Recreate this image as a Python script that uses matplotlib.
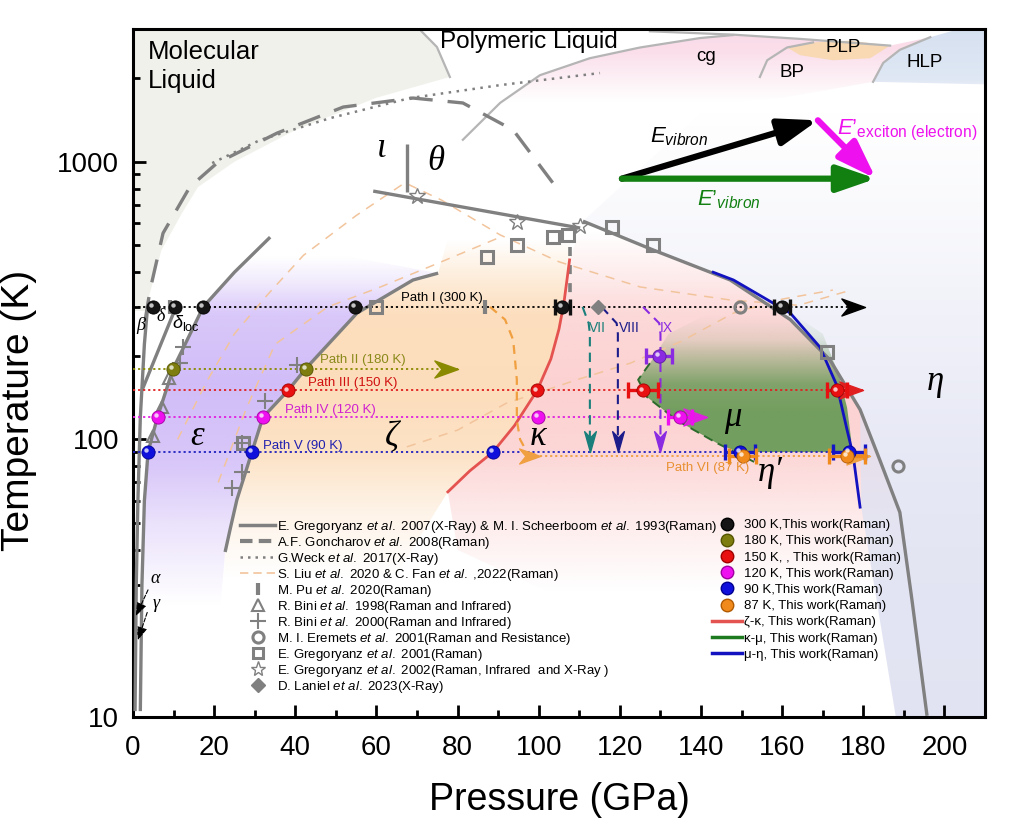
import numpy as np
import matplotlib
matplotlib.use("Agg")
import matplotlib.pyplot as plt
from matplotlib.lines import Line2D
from matplotlib.patches import Polygon
from matplotlib.path import Path
from matplotlib.transforms import offset_copy

plt.rcParams["font.family"] = ["Liberation Sans", "DejaVu Sans"]
plt.rcParams["mathtext.fontset"] = "custom"
plt.rcParams["mathtext.rm"] = "Liberation Sans"
plt.rcParams["mathtext.it"] = "Liberation Sans:italic"
plt.rcParams["mathtext.bf"] = "Liberation Sans:bold"

# ---------------- phase boundaries (P in GPa, T in K) ----------------
beta_P = [0.5, 0.8, 1.2, 1.8, 2.8, 3.5]
beta_T = [10.5, 30, 60, 120, 220, 290]
eps_P = [1.8, 2.2, 2.8, 3.7, 6.0, 9.9, 12.5, 17.3, 25, 33.8]
eps_T = [10.5, 30, 60, 90, 120, 180, 215, 300, 400, 535]
delta_P = [2.2, 10.8]
delta_T = [150, 305]
epszeta_P = [22.7, 23.9, 25.6, 29.3, 32.0, 38.2, 42.6, 55.2, 69.0, 75.2]
epszeta_T = [39.3, 47.2, 60.6, 90, 120, 150, 180, 285, 375, 397]
theta_P = [59.2, 110.2]
theta_T = [784, 577]
eta_P = [110.9, 128.2, 147.2, 162, 171.8, 179.2, 184.1, 189, 192, 195.7]
eta_T = [611, 481, 375, 270, 193, 128, 84, 54.6, 26.3, 10.1]
iota_P = [67.5, 67.5]
iota_T = [1155, 780]
gonch_P = [3.0, 4.2, 7.4, 14.0, 20.7, 35.5, 51.8, 69.0, 81.3, 93.7, 103.5]
gonch_T = [269, 345, 553, 811, 989, 1268, 1574, 1696, 1628, 1301, 838]
weck_P = [19.5, 31.3, 48.6, 68.3, 90.5, 115.1]
weck_T = [989, 1197, 1436, 1696, 1888, 2087]
liu1_P = [11, 18, 25, 33, 42, 55, 67, 76, 90.5, 105, 125, 147, 164, 177]
liu1_T = [100, 160, 240, 330, 460, 640, 840, 728, 545, 436, 354, 318, 304, 345]
liu2_P = [67.5, 80, 92, 110, 122.5, 135, 148, 160, 172.5]
liu2_T = [94, 108, 135, 165, 188, 225, 285, 320, 345]
liu3_P = [21, 28, 35, 48, 61, 75, 90.5]
liu3_T = [70, 130, 220, 300, 354, 430, 535]
pu_line_P = [107.7, 107.7]
pu_line_T = [493, 300]

# this work boundaries
zk_P = [77.6, 83, 88.7, 94, 99.6, 103, 105, 106.2, 107, 107.6]
zk_T = [64.7, 77, 90, 112, 150, 195, 250, 310, 380, 443]
km_P = [127.4, 124.5, 126.7, 134.1, 143.9, 154.5]
km_T = [188, 164, 142, 117, 97, 81]
me_P = [143, 148, 162, 169.3, 173.5, 176, 177.5, 179.2]
me_T = [400, 375, 285, 215, 156, 108, 87.5, 57]

# liquid / high-T boundaries (top of the plot)
mol_arc_P = [70.7, 74.9, 78.1]
mol_arc_T = [2990, 2590, 2020]
poly_P = [81.3, 90.5, 100.3, 112.6, 125, 139.8, 147.9]
poly_T = [1200, 1630, 2050, 2360, 2580, 2790, 2860]
top_P = [127.4, 147.9, 164.4, 186.6]
top_T = [2950, 2870, 2770, 2620]
bp_P = [154.5, 156.3, 161.2, 167.6]
bp_T = [2020, 2320, 2580, 2690]
hlp_P = [182.4, 184.9, 189, 196.5, 203]
hlp_T = [1940, 2270, 2530, 2810, 2990]

# ---------------- literature points ----------------
pu_P, pu_T = [9.1, 86.8], [300, 300]
tri_P, tri_T = [5.0, 7.1, 8.9], [103, 131, 166]
plus_P = [11.6, 12.3, 24.4, 26.9, 26.9, 32.5, 40.4]
plus_T = [188, 215, 67, 76, 97, 137, 185]
circ_P, circ_T = [149.6, 188.6], [300, 80]
sq_P = [27.1, 60.0, 87.3, 94.6, 103.5, 107.2, 118.0, 128.2, 171.0]
sq_T = [97, 300, 453, 503, 536, 545, 580, 502, 206]
star_P, star_T = [70.0, 94.6, 110.2], [752, 606, 587]
dia_P, dia_T = [114.6], [300]

# ---------------- this work: paths and points ----------------
path_T = [300, 180, 150, 120, 90, 87]
path_end = [180.5, 80, 179.8, 141.5, 181, 181.7]
path_start = [0, 0, 0, 0, 0, 100.3]
path_names = ["Path I (300 K)", "Path II (180 K)", "Path III (150 K)",
              "Path IV (120 K)", "Path V (90 K)", "Path VI (87 K)"]
path_arrow = [True, True, True, True, False, True]

s300_P = [4.9, 10.4, 17.3, 54.7, 105.8, 160.0]
s180_P = [9.9, 42.6]
s150_P = [38.2, 99.6, 125.7, 173.5]
s120_P = [6.2, 32.0, 99.8, 134.8]
s90_P = [3.7, 29.3, 88.7, 149.6, 176.5]
s87_P = [150.3, 176.0]
s200_P = [129.7]

err300_P, err300_x = [105.8, 160.0], [1.8, 2.0]
err150_P, err150_x = [125.7, 173.5], [3.8, 2.5]
err120_P, err120_x = [134.8], [2.9]
err90_P, err90_x = [149.6, 176.5], [3.8, 4.0]
err87_P, err87_x = [150.3, 176.0], [3.3, 4.5]
err200_P, err200_x = [129.7], [3.2]

# Path VI curve coming down from Path I
pvi_P = [88.0, 91.7, 93.7, 94.6, 94.6, 95.4, 97.1, 100.3]
pvi_T = [300, 270, 228, 164, 117, 100, 90, 87]

# vertical paths VII, VIII, IX
vert_names = ["VII", "VIII", "IX"]
vert_top_P = [110.8, 115.5, 125.7]
vert_P = [112.6, 119.5, 130.0]
vert_bot_T = 90

# vector diagram
vec_origin = (120.5, 869)
vec_black_tip = (168.8, 1410)
vec_green_tip = (183.1, 869)

grey = "#808080"
pale = "#f2c49c"

fig = plt.figure(figsize=(10.1, 8.27), dpi=100)
ax = fig.add_axes([0.1317, 0.133, 0.8436, 0.8316])
ax.set_yscale("log")
ax.set_xlim(0, 210)
ax.set_ylim(10, 3000)
ax.set_autoscale_on(False)

LOGLO, LOGHI = 1.0, np.log10(3000)


def shade(P, T, rgb, lt, al, z=0.5):
    yy = np.linspace(0, 1, 400)
    lg = LOGLO + yy * (LOGHI - LOGLO)
    a = np.interp(lg, lt, al)
    img = np.zeros((400, 2, 4))
    img[..., :3] = rgb
    img[..., 3] = a[:, None]
    im = ax.imshow(img, extent=(0, 1, 0, 1), transform=ax.transAxes,
                   origin="lower", aspect="auto", interpolation="bilinear",
                   zorder=z)
    poly = Polygon(np.column_stack([P, T]), closed=True,
                   transform=ax.transData)
    im.set_clip_path(poly)


# molecular liquid (flat grey)
mol_fill_P = [0, 0] + mol_arc_P + [60, 40, 25, 16, 12, 7, 3]
mol_fill_T = [290, 3000] + mol_arc_T + [1700, 1300, 1000, 810, 650, 480, 290]
ax.fill(mol_fill_P, mol_fill_T, color="#f1f1ec", zorder=0.2, lw=0)

# epsilon (purple)
shade(eps_P[1:] + [55, 75.2] + epszeta_P[::-1][1:] + [21, 2.0],
      eps_T[1:] + [450, 397] + epszeta_T[::-1][1:] + [20, 20],
      (0.80, 0.71, 0.97), [1.4, 1.7, 1.9, 2.2, 2.45, 2.56, 2.66],
      [0, 0.4, 0.75, 0.9, 0.75, 0.3, 0], z=0.6)
# zeta (orange)
shade(epszeta_P + [80, 108] + zk_P[::-1] + [60, 22],
      epszeta_T + [700, 700] + zk_T[::-1] + [25, 20],
      (0.99, 0.86, 0.72), [1.5, 1.75, 1.95, 2.2, 2.45, 2.6, 2.72],
      [0, 0.35, 0.8, 0.95, 0.9, 0.45, 0], z=0.6)
# kappa (pink)
shade(zk_P + eta_P[:-1] + [150, 110, 80],
      zk_T + eta_T[:-1] + [22, 25, 40],
      (0.99, 0.80, 0.80), [1.45, 1.75, 1.95, 2.2, 2.45, 2.6, 2.75],
      [0, 0.45, 0.8, 0.9, 0.75, 0.35, 0], z=0.6)
# right side (lavender)
shade(eta_P[:6] + [179.5, 188, 210, 210, 140],
      eta_T[:6] + [57, 10, 10, 1500, 1500],
      (0.88, 0.89, 0.95), [1.0, 1.5, 2.0, 2.4, 2.8, 3.2],
      [0.95, 0.9, 0.75, 0.5, 0.2, 0], z=0.6)
# mu (green)
shade(km_P[:5] + [149, 177, 177, 176, 174, 170, 160, 145, 132],
      km_T[:5] + [90, 90, 100, 130, 170, 240, 300, 300, 240],
      (0.42, 0.61, 0.35), [1.9, 2.1, 2.2, 2.28, 2.36, 2.45],
      [0.95, 0.95, 0.85, 0.5, 0.15, 0], z=0.7)
# cg (pink), PLP (orange), HLP (blue)
shade(poly_P + top_P[2:] + hlp_P[::-1][1:] + [160, 120, 85],
      poly_T + top_T[2:] + hlp_T[::-1][1:] + [1700, 1500, 1250],
      (0.98, 0.84, 0.90), [3.22, 3.32, 3.4, 3.48],
      [0, 0.45, 0.8, 0.9], z=0.6)
ax.fill([161.2, 167.6, 176.7, 186.6, 181.7, 172.5, 164.4],
        [2580, 2690, 2730, 2620, 2360, 2320, 2420],
        color="#f8d9b4", lw=0, zorder=0.7)
shade(hlp_P + [210, 210],
      hlp_T + [3000, 1900],
      (0.82, 0.87, 0.94), [3.2, 3.3, 3.48], [0, 0.7, 0.9], z=0.7)

# top thin grey curves
for P, T in [(mol_arc_P, mol_arc_T), (poly_P, poly_T), (top_P, top_T),
             (bp_P, bp_T), (hlp_P[:4], hlp_T[:4])]:
    ax.plot(P, T, color="#b5b5b5", lw=1.6, zorder=2)

# literature boundaries
for P, T in [(beta_P, beta_T), (eps_P, eps_T), (delta_P, delta_T),
             (epszeta_P, epszeta_T), (theta_P, theta_T), (eta_P, eta_T),
             (iota_P, iota_T)]:
    ax.plot(P, T, color=grey, lw=2.4, solid_capstyle="butt", zorder=3)
ax.plot(gonch_P, gonch_T, color=grey, lw=2.4, dashes=(7, 4.5), zorder=3)
ax.plot(weck_P, weck_T, color=grey, lw=1.8, ls=(0, (1, 2.2)), zorder=3)
for P, T in [(liu1_P, liu1_T), (liu2_P, liu2_T), (liu3_P, liu3_T)]:
    ax.plot(P, T, color=pale, lw=1.1, dashes=(6, 5), zorder=2.5)
ax.plot(pu_line_P, pu_line_T, color=grey, lw=2.6, dashes=(2.5, 2.5), zorder=3)

# this work boundaries
ax.plot(zk_P, zk_T, color="#e4534f", lw=2.0, zorder=3.5)
ax.plot(km_P, km_T, color="#2d6b2d", lw=1.4, dashes=(5, 3), zorder=3.5)
ax.plot(me_P, me_T, color="#1212c0", lw=2.0, zorder=3.5)

# literature markers
mk = dict(ls="none", zorder=5)
ax.plot(pu_P, pu_T, marker="|", ms=10, mew=3, color=grey, **mk)
ax.plot(tri_P, tri_T, marker="^", ms=9, mfc="none", mec=grey, mew=1.5, **mk)
ax.plot(plus_P, plus_T, marker="+", ms=11, mec=grey, mew=1.5, **mk)
ax.plot(circ_P, circ_T, marker="o", ms=8, mfc="none", mec=grey, mew=2.2, **mk)
ax.plot(sq_P, sq_T, marker="s", ms=8, mfc="none", mec=grey, mew=2.2, **mk)
ax.plot(star_P, star_T, marker="*", ms=12, mfc="none", mec=grey, mew=1.0, **mk)
ax.plot(dia_P, dia_T, marker="D", ms=7, color=grey, **mk)

# stealth arrowheads as markers (tip at the data point)
right_head = Path([(0, 0), (-1, 0.36), (-0.7, 0), (-1, -0.36), (0, 0)],
                  [Path.MOVETO, Path.LINETO, Path.LINETO, Path.LINETO,
                   Path.CLOSEPOLY])
down_head = Path([(0, 0), (0.28, 1), (0, 0.7), (-0.28, 1), (0, 0)],
                 [Path.MOVETO, Path.LINETO, Path.LINETO, Path.LINETO,
                  Path.CLOSEPOLY])

path_cols = ["#000000", "#8a8a00", "#e02020", "#e020e0", "#2020c0", "#f0a040"]
label_cols = ["#000000", "#8a8a1a", "#d01010", "#d020d0", "#2020b0", "#e89030"]
label_pos = [(76.2, 323), (56.7, 193), (54.2, 160), (48.6, 128), (41.9, 95),
             (141.5, 79)]
for i in range(6):
    T = path_T[i]
    ax.plot([path_start[i], path_end[i]], [T, T], color=path_cols[i], lw=1.3,
            ls=(0, (1.2, 1.6)), zorder=4)
    if path_arrow[i]:
        ax.plot([path_end[i]], [T], marker=right_head, ms=34,
                color=path_cols[i], ls="none", zorder=4.5)
    ax.text(*label_pos[i], path_names[i], color=label_cols[i], fontsize=9.5,
            ha="center", va="center", zorder=7)

# Path VI curve + mid arrowhead
ax.plot(pvi_P, pvi_T, color="#f0a040", lw=1.6, dashes=(4, 3), zorder=4)
ax.plot([pvi_P[-1]], [pvi_T[-1]], marker=right_head, ms=30, color="#f0a040",
        ls="none", zorder=4.5)

# vertical paths
vert_cols = ["#1a7f7a", "#1c1c8a", "#8a2be2"]
vert_lab_P = [114.4, 122.3, 131.4]
for i in range(3):
    ax.plot([vert_top_P[i], vert_P[i] - 0.3, vert_P[i], vert_P[i]],
            [300, 262, 240, vert_bot_T + 8], color=vert_cols[i], lw=1.5,
            dashes=(4.5, 3), zorder=4)
    ax.plot([vert_P[i]], [vert_bot_T], marker=down_head, ms=30,
            color=vert_cols[i], ls="none", zorder=4.5)
    ax.text(vert_lab_P[i], 252, vert_names[i], color=vert_cols[i],
            fontsize=10, ha="center", va="center", zorder=7)

# error bars
eb = dict(fmt="none", elinewidth=2.4, capsize=6, capthick=2.4, zorder=5.5)
ax.errorbar(err300_P, [300] * 2, xerr=err300_x, ecolor="#111111", **eb)
ax.errorbar(err150_P, [150] * 2, xerr=err150_x, ecolor="#e81010", **eb)
ax.errorbar(err120_P, [120], xerr=err120_x, ecolor="#ee10ee", **eb)
ax.errorbar(err90_P, [90] * 2, xerr=err90_x, ecolor="#1515c8", **eb)
ax.errorbar(err87_P, [87] * 2, xerr=err87_x, ecolor="#f08a1c", **eb)
ax.errorbar(err200_P, [200], xerr=err200_x, ecolor="#8a2be2", **eb)

hl = offset_copy(ax.transData, fig=fig, x=-1.4, y=1.4, units="points")


def spheres(P, T, col, edge):
    ax.plot(P, [T] * len(P), "o", ms=9.5, mfc=col, mec=edge, mew=0.6,
            ls="none", zorder=6)
    ax.plot(P, [T] * len(P), "o", ms=3.2, mfc="white", mec="none", alpha=0.75,
            ls="none", zorder=6.1, transform=hl)


sphere_cols = [("#151515", "#000000"), ("#7d7d10", "#555500"),
               ("#e81010", "#a00000"), ("#ee10ee", "#a000a0"),
               ("#1010dd", "#000090"), ("#f08a1c", "#b05a00")]
for P, T, (c, e) in zip([s300_P, s180_P, s150_P, s120_P, s90_P, s87_P],
                        path_T, sphere_cols):
    spheres(P, T, c, e)
spheres(s200_P, 200, "#8a2be2", "#5a1aa0")

# vector diagram
ap = dict(shrinkA=0, shrinkB=0)
ax.annotate("", xy=vec_black_tip, xytext=vec_origin,
            arrowprops=dict(arrowstyle="-|>,head_length=1.3,head_width=0.45",
                            color="k", lw=4.5, mutation_scale=18, **ap),
            zorder=7)
ax.annotate("", xy=vec_green_tip, xytext=vec_origin,
            arrowprops=dict(arrowstyle="-|>,head_length=1.3,head_width=0.45",
                            color="#118011", lw=4.5, mutation_scale=18, **ap),
            zorder=7)
ax.annotate("", xy=vec_green_tip, xytext=vec_black_tip,
            arrowprops=dict(arrowstyle="-|>,head_length=1.3,head_width=0.45",
                            color="#ee10ee", lw=4.5, mutation_scale=18, **ap),
            zorder=7)
ax.text(127.4, 1230, r"$E_{vibron}$", fontsize=16, color="k", va="center",
        zorder=7)
ax.text(139, 728, r"$E$’$_{vibron}$", fontsize=16, color="#118011",
        va="center", zorder=7)
ax.text(173.5, 1300, r"$E$’$_{\mathrm{exciton\ (electron)}}$", fontsize=16,
        color="#ee10ee", va="center", zorder=7)

# region labels
ax.text(3.7, 2750, "Molecular\nLiquid", fontsize=18.5, va="top", ha="left",
        linespacing=1.3, zorder=7)
ax.text(75.7, 2700, "Polymeric Liquid", fontsize=17.5, va="center",
        ha="left", zorder=7)
for s, p, t in [("cg", 141.2, 2400), ("BP", 162.4, 2100), ("PLP", 175, 2570),
                ("HLP", 195, 2270)]:
    ax.text(p, t, s, fontsize=13.5, ha="center", va="center", zorder=7)

serif = dict(family=["Liberation Serif", "DejaVu Serif"], style="italic",
             zorder=7, ha="center", va="center")
for s, p, t in [("ε", 15.8, 102), ("ζ", 63.8, 101), ("κ", 99.8, 102),
                ("μ", 147.9, 120), ("η", 197.7, 161), ("η′", 157, 76),
                ("ι", 61.4, 1120), ("θ", 74.7, 1000)]:
    ax.text(p, t, s, fontsize=25, **serif)
for s, p, t in [("β", 2.0, 258), ("δ", 6.7, 276), ("α", 5.4, 31.6),
                ("γ", 5.7, 25.6)]:
    ax.text(p, t, s, fontsize=13, **serif)
ax.text(9.6, 263, r"$\delta_{\mathrm{loc}}$", fontsize=13, ha="left",
        va="center", zorder=7)
# alpha / gamma pointers
for (p0, t0, p1, t1) in [(3.7, 28.7, 0.7, 23.1), (3.5, 23.8, 1.2, 18.9)]:
    ax.annotate("", xy=(p1, t1), xytext=(p0, t0),
                arrowprops=dict(arrowstyle="-|>,head_length=0.8,head_width=0.3",
                                color="k", lw=0.8, ls="--", mutation_scale=10,
                                **ap), zorder=7)

# legends
leg1_h = [
    Line2D([], [], color=grey, lw=2.5),
    Line2D([], [], color=grey, lw=3, ls=(0, (3, 1.5))),
    Line2D([], [], color=grey, lw=1.8, ls=(0, (1, 2))),
    Line2D([], [], color=pale, lw=1.2, ls=(0, (5, 3))),
    Line2D([], [], color=grey, marker="|", ms=9, mew=3, ls="none"),
    Line2D([], [], marker="^", ms=9, mfc="none", mec=grey, mew=1.5, ls="none"),
    Line2D([], [], marker="+", ms=11, mec=grey, mew=1.5, ls="none"),
    Line2D([], [], marker="o", ms=8, mfc="none", mec=grey, mew=2.2, ls="none"),
    Line2D([], [], marker="s", ms=7, mfc="none", mec=grey, mew=2.2, ls="none"),
    Line2D([], [], marker="*", ms=11, mfc="none", mec=grey, mew=1, ls="none"),
    Line2D([], [], marker="D", ms=7, color=grey, ls="none"),
]
ea = r"$\it{et\ al.}$"
leg1_l = [
    f"E. Gregoryanz {ea} 2007(X-Ray) & M. I. Scheerboom {ea} 1993(Raman)",
    f"A.F. Goncharov {ea} 2008(Raman)",
    f"G.Weck {ea} 2017(X-Ray)",
    f"S. Liu {ea} 2020 & C. Fan {ea} ,2022(Raman)",
    f"M. Pu {ea} 2020(Raman)",
    f"R. Bini {ea} 1998(Raman and Infrared)",
    f"R. Bini {ea} 2000(Raman and Infrared)",
    f"M. I. Eremets {ea} 2001(Raman and Resistance)",
    f"E. Gregoryanz {ea} 2001(Raman)",
    f"E. Gregoryanz {ea} 2002(Raman, Infrared  and X-Ray )",
    f"D. Laniel {ea} 2023(X-Ray)",
]
leg2_h = [Line2D([], [], marker="o", ms=9, mfc=c, mec=e, ls="none")
          for c, e in sphere_cols]
leg2_h += [Line2D([], [], color="#e4534f", lw=2.5),
           Line2D([], [], color="#1e7a1e", lw=2.5),
           Line2D([], [], color="#1212c0", lw=2.5)]
leg2_l = ["300 K,This work(Raman)", "180 K, This work(Raman)",
          "150 K, , This work(Raman)", "120 K, This work(Raman)",
          "90 K,This work(Raman)", "87 K, This work(Raman)",
          "ζ-κ, This work(Raman)", "κ-μ, This work(Raman)",
          "μ-η, This work(Raman)"]
lk = dict(frameon=False, fontsize=9.5, borderpad=0, borderaxespad=0,
          handletextpad=0.15, loc="upper left")
leg1 = ax.legend(leg1_h, leg1_l, bbox_to_anchor=(0.1256, 0.288),
                 handlelength=2.65, labelspacing=0.0, **lk)
leg1.set_zorder(8)
ax.add_artist(leg1)
leg2 = ax.legend(leg2_h, leg2_l, bbox_to_anchor=(0.6796, 0.288),
                 handlelength=2.3, labelspacing=0.3, **lk)
leg2.set_zorder(8)

# axes cosmetics
ax.set_yticks([10, 100, 1000])
ax.set_yticklabels(["10", "100", "1000"])
ax.set_xticks(np.arange(0, 201, 20))
ax.set_xticks(np.arange(0, 211, 10), minor=True)
ax.tick_params(which="both", direction="in", top=False, right=False,
               labelsize=20, width=2)
ax.tick_params(which="major", length=9, pad=10)
ax.tick_params(axis="x", which="major", pad=13)
ax.tick_params(which="minor", length=5)
ax.tick_params(axis="y", which="minor", labelleft=False)
for sp in ax.spines.values():
    sp.set_linewidth(2.2)
ax.set_xlabel("Pressure (GPa)", fontsize=27, labelpad=15)
ax.set_ylabel("Temperature (K)", fontsize=28)
ax.yaxis.set_label_coords(-0.113, 0.446)

fig.savefig("out.png", dpi=100)
